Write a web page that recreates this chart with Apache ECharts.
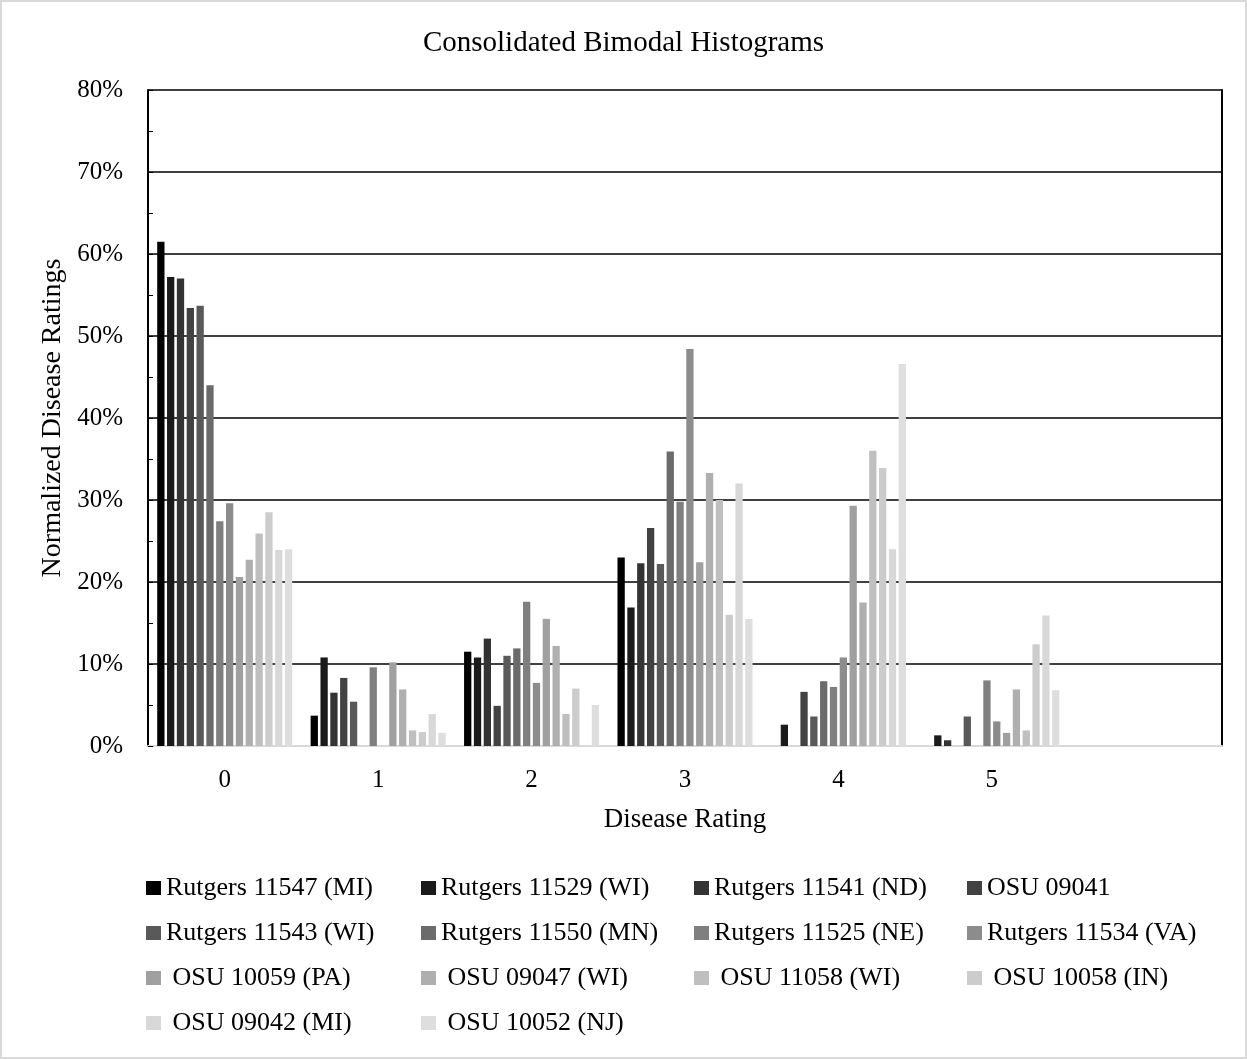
<!DOCTYPE html>
<html>
<head>
<meta charset="utf-8">
<script src="https://cdn.jsdelivr.net/npm/echarts@6/dist/echarts.min.js"></script>
<style>
  html, body { margin: 0; padding: 0; background: #fff; }
  #chart { width: 1247px; height: 1059px; }
</style>
</head>
<body>
<div id="chart"></div>
<script>
// Disease rating categories (last slot is an empty category)
const ratings = ['0', '1', '2', '3', '4', '5', ''];

// Normalized disease ratings (%) per line, one value per rating 0..5
const rutgers11547MI = [61.5, 3.7, 11.5, 23.0, 0, 0];
const rutgers11529WI = [57.2, 10.8, 10.8, 16.9, 2.6, 1.3];
const rutgers11541ND = [57.0, 6.5, 13.1, 22.3, 0, 0.7];
const osu09041 = [53.4, 8.3, 4.9, 26.6, 6.6, 0];
const rutgers11543WI = [53.7, 5.4, 11.0, 22.2, 3.6, 3.6];
const rutgers11550MN = [44.0, 0, 11.9, 35.9, 7.9, 0];
const rutgers11525NE = [27.4, 9.6, 17.6, 29.8, 7.2, 8.0];
const rutgers11534VA = [29.6, 0, 7.7, 48.4, 10.8, 3.0];
const osu10059PA = [20.6, 10.2, 15.5, 22.4, 29.3, 1.6];
const osu09047WI = [22.7, 6.9, 12.2, 33.3, 17.5, 6.9];
const osu11058WI = [25.9, 1.9, 3.9, 30.0, 36.0, 1.9];
const osu10058IN = [28.5, 1.7, 7.0, 16.0, 33.9, 12.4];
const osu09042MI = [23.9, 3.9, 0, 32.0, 24.0, 15.9];
const osu10052NJ = [24.0, 1.6, 5.0, 15.5, 46.6, 6.8];

// Series names as shown in the legend
const seriesNames = [
  'Rutgers 11547 (MI)', 'Rutgers 11529 (WI)', 'Rutgers 11541 (ND)', 'OSU 09041',
  'Rutgers 11543 (WI)', 'Rutgers 11550 (MN)', 'Rutgers 11525 (NE)', 'Rutgers 11534 (VA)',
  ' OSU 10059 (PA)', ' OSU 09047 (WI)', ' OSU 11058 (WI)', ' OSU 10058 (IN)',
  ' OSU 09042 (MI)', ' OSU 10052 (NJ)'
];
const seriesValues = [
  rutgers11547MI, rutgers11529WI, rutgers11541ND, osu09041,
  rutgers11543WI, rutgers11550MN, rutgers11525NE, rutgers11534VA,
  osu10059PA, osu09047WI, osu11058WI, osu10058IN, osu09042MI, osu10052NJ
];
const grays = [
  '#000000', '#1a1a1a', '#333333', '#424242', '#595959', '#6b6b6b', '#7f7f7f',
  '#8c8c8c', '#a0a0a0', '#afafaf', '#bfbfbf', '#cccccc', '#d8d8d8', '#dedede'
];

const FONT = '"Liberation Serif", "Times New Roman", serif';

const series = seriesNames.map((name, i) => ({
  name: name,
  type: 'bar',
  data: seriesValues[i],
  barGap: '35%',
  barCategoryGap: '12%',
  itemStyle: { color: grays[i] }
}));

// Legend laid out in four fixed columns
const legendCols = [
  { left: 146, items: [0, 4, 8, 12] },
  { left: 421, items: [1, 5, 9, 13] },
  { left: 694, items: [2, 6, 10] },
  { left: 967, items: [3, 7, 11] }
];
const legends = legendCols.map(col => ({
  orient: 'vertical',
  left: col.left,
  top: 875,
  padding: 0,
  itemGap: 19,
  itemWidth: 15,
  itemHeight: 14,
  icon: 'rect',
  selectedMode: false,
  data: col.items.map(i => seriesNames[i]),
  textStyle: { fontFamily: FONT, fontSize: 26, color: '#000', lineHeight: 24, padding: [0, 0, 0, 0] }
}));

const chart = echarts.init(document.getElementById('chart'));
chart.setOption({
  animation: false,
  backgroundColor: '#fff',
  title: {
    text: 'Consolidated Bimodal Histograms',
    left: 'center',
    top: 24,
    textStyle: { fontFamily: FONT, fontSize: 29, fontWeight: 'normal', color: '#000' }
  },
  legend: legends,
  grid: { left: 148, right: 25, top: 90, bottom: 313 },
  xAxis: {
    type: 'category',
    data: ratings,
    name: 'Disease Rating',
    nameLocation: 'middle',
    nameGap: 60,
    nameTextStyle: { fontFamily: FONT, fontSize: 27, color: '#000' },
    axisLine: { lineStyle: { color: '#d9d9d9', width: 2 } },
    axisTick: { show: false },
    axisLabel: { fontFamily: FONT, fontSize: 25, color: '#000', margin: 22 }
  },
  yAxis: [
    {
      type: 'value',
      min: 0,
      max: 80,
      interval: 10,
      name: 'Normalized Disease Ratings',
      nameLocation: 'middle',
      nameGap: 78,
      nameTextStyle: { fontFamily: FONT, fontSize: 28, color: '#000' },
      axisLine: { show: true, lineStyle: { color: '#000', width: 2 } },
      axisTick: { show: true, inside: true, length: 5, lineStyle: { color: '#000', width: 1 } },
      minorTick: { show: true, splitNumber: 2, length: 5, lineStyle: { color: '#000', width: 1 } },
      axisLabel: { fontFamily: FONT, fontSize: 25, color: '#000', margin: 25, formatter: '{value}%' },
      splitLine: { show: true, lineStyle: { color: '#000', width: 1.5 } }
    },
    {
      // right border of the plot area
      type: 'value',
      position: 'right',
      min: 0,
      max: 80,
      interval: 10,
      axisLine: { show: true, lineStyle: { color: '#000', width: 2 } },
      axisTick: { show: false },
      axisLabel: { show: false },
      splitLine: { show: false }
    }
  ],
  graphic: [{
    type: 'rect',
    silent: true,
    shape: { x: 1, y: 1, width: 1245, height: 1057 },
    style: { fill: 'none', stroke: '#d9d9d9', lineWidth: 2 }
  }],
  series: series
});
</script>
</body>
</html>
